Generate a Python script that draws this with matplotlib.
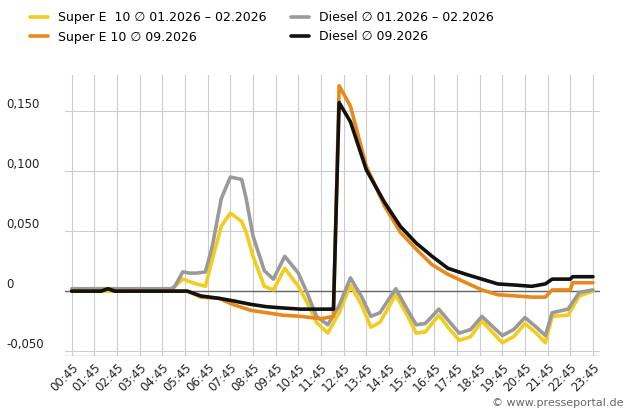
import matplotlib
matplotlib.use("Agg")
import matplotlib.pyplot as plt

tick_labels = [f"{h:02d}:45" for h in range(24)]

gray_x = [0, 4.4, 4.55, 4.9, 5.2, 5.5, 5.9, 6.2, 6.6, 7.0, 7.5, 7.7, 8.0, 8.5, 8.9, 9.4, 10.0, 10.4, 10.8, 11.3, 11.8, 12.3, 12.8, 13.2, 13.6, 14.3, 14.8, 15.2, 15.6, 16.2, 16.6, 17.1, 17.6, 18.1, 18.6, 19.0, 19.5, 20.0, 20.5, 20.9, 21.2, 21.9, 22.4, 23.0]
gray_y = [0.002, 0.002, 0.004, 0.016, 0.015, 0.015, 0.016, 0.037, 0.077, 0.095, 0.093, 0.077, 0.046, 0.017, 0.010, 0.029, 0.015, -0.002, -0.021, -0.028, -0.012, 0.011, -0.005, -0.021, -0.018, 0.002, -0.015, -0.028, -0.027, -0.015, -0.024, -0.035, -0.032, -0.021, -0.030, -0.037, -0.032, -0.022, -0.030, -0.037, -0.018, -0.015, -0.001, 0.001]

yel_x = gray_x
yel_y = [0.0, 0.0, 0.004, 0.010, 0.008, 0.006, 0.004, 0.026, 0.054, 0.065, 0.058, 0.049, 0.029, 0.004, 0.001, 0.019, 0.004, -0.010, -0.026, -0.035, -0.018, 0.005, -0.012, -0.030, -0.026, -0.003, -0.020, -0.035, -0.034, -0.020, -0.030, -0.041, -0.038, -0.025, -0.035, -0.043, -0.038, -0.027, -0.035, -0.043, -0.021, -0.020, -0.004, 0.0]

blk_x = [0, 1.3, 1.6, 1.9, 5.1, 5.7, 6.5, 7.1, 7.9, 8.6, 9.3, 10.1, 11.0, 11.55, 11.8, 12.3, 13.0, 13.8, 14.5, 15.2, 15.9, 16.6, 17.4, 18.1, 18.8, 19.6, 20.3, 20.9, 21.2, 22.0, 22.1, 23.0]
blk_y = [0.0, 0.0, 0.002, 0.0, 0.0, -0.004, -0.006, -0.008, -0.011, -0.013, -0.014, -0.015, -0.015, -0.015, 0.157, 0.141, 0.101, 0.074, 0.054, 0.040, 0.029, 0.019, 0.014, 0.010, 0.006, 0.005, 0.004, 0.006, 0.010, 0.010, 0.012, 0.012]

org_x = blk_x
org_y = [0.0, 0.0, 0.002, 0.0, 0.0, -0.005, -0.006, -0.011, -0.016, -0.018, -0.020, -0.021, -0.023, -0.021, 0.171, 0.154, 0.104, 0.071, 0.049, 0.035, 0.022, 0.014, 0.007, 0.001, -0.003, -0.004, -0.005, -0.005, 0.001, 0.001, 0.007, 0.007]

fig = plt.figure(figsize=(6.3, 4.12), dpi=100)
ax = fig.add_axes([0.103, 0.136, 0.849, 0.682])
lw = 2.6
kw = dict(lw=lw, solid_joinstyle="round", solid_capstyle="round")
ax.plot(yel_x, yel_y, color="#f2cd1d", label="Super E  10 ∅ 01.2026 – 02.2026", zorder=3, **kw)
ax.plot(org_x, org_y, color="#e8891c", label="Super E 10 ∅ 09.2026", zorder=4, **kw)
ax.plot(gray_x, gray_y, color="#9a9a9a", label="Diesel ∅ 01.2026 – 02.2026", zorder=3, **kw)
ax.plot(blk_x, blk_y, color="#111111", label="Diesel ∅ 09.2026", zorder=5, **kw)

ax.set_xlim(-0.3, 23.3)
ax.set_ylim(-0.054, 0.18)
ax.set_yticks([-0.05, 0, 0.05, 0.1, 0.15])
ax.set_yticklabels(["-0,050", "0", "0,050", "0,100", "0,150"])
ax.set_xticks(range(24))
ax.set_xticklabels(tick_labels, rotation=45, ha="right", rotation_mode="anchor")
ax.tick_params(length=0, labelsize=8.5, colors="#222222")
for lab in ax.get_yticklabels():
    lab.set_horizontalalignment("left")
    lab.set_verticalalignment("bottom")
ax.tick_params(axis="y", pad=42)
for s in ax.spines.values():
    s.set_visible(False)
ax.grid(True, color="#cccccc", lw=0.8)
ax.axhline(0, color="#666666", lw=1, zorder=2)
ax.axhline(-0.054, color="#aaaaaa", lw=1, zorder=2)

fig.legend(loc="upper left", bbox_to_anchor=(0.03, 1.0), ncol=2, frameon=False,
           fontsize=9, handlelength=1.4, columnspacing=2.0, labelspacing=0.5)
fig.text(0.99, 0.01, "© www.presseportal.de", ha="right", va="bottom", fontsize=8, color="#666666")
fig.savefig("out.png", dpi=100)
